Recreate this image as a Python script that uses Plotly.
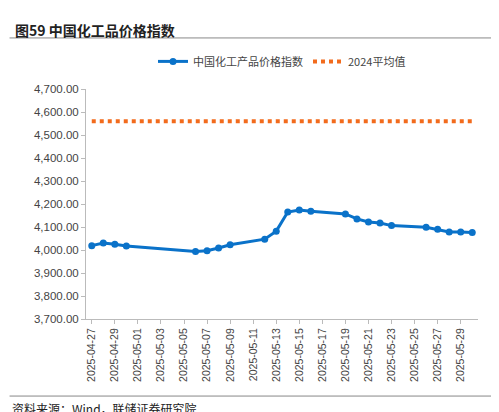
import plotly.graph_objects as go

dates = ["2025-04-27","2025-04-28","2025-04-29","2025-04-30","2025-05-06","2025-05-07","2025-05-08","2025-05-09",
         "2025-05-12","2025-05-13","2025-05-14","2025-05-15","2025-05-16","2025-05-19","2025-05-20","2025-05-21",
         "2025-05-22","2025-05-23","2025-05-26","2025-05-27","2025-05-28","2025-05-29","2025-05-30"]
index_vals = [4019,4030,4025,4017,3994,3997,4009,4023,4047,4082,4165,4174,4168,4157,4135,4122,4117,4106,4099,4090,4078,4078,4076]
avg_2024 = [4560]*len(dates)
tickvals = ["2025-04-27","2025-04-29","2025-05-01","2025-05-03","2025-05-05","2025-05-07","2025-05-09","2025-05-11",
            "2025-05-13","2025-05-15","2025-05-17","2025-05-19","2025-05-21","2025-05-23","2025-05-25","2025-05-27","2025-05-29"]

font = "Liberation Sans"
cjk = "Noto Sans CJK SC"
fig = go.Figure()
fig.add_trace(go.Scatter(x=dates, y=index_vals, mode="lines+markers", name="中国化工产品价格指数",
                         line=dict(color="#0a72c9", width=3), marker=dict(size=7, color="#0a72c9")))
fig.add_trace(go.Scatter(x=dates, y=avg_2024, mode="lines", name="2024平均值",
                         line=dict(color="#f26b1d", width=4, dash="dot")))
fig.update_layout(
    width=499, height=412, paper_bgcolor="white", plot_bgcolor="white",
    margin=dict(l=78, r=29, t=81, b=101),
    font=dict(family=font, size=11, color="#333"),
    legend=dict(orientation="h", x=0.5, xanchor="center", y=1.12, yanchor="middle",
                font=dict(size=11, family=cjk, color="#444")),
    xaxis=dict(type="date", range=["2025-04-26T12:00", "2025-05-30T12:00"], tickvals=tickvals, ticktext=tickvals,
               tickangle=-90, showgrid=False, showline=True, linecolor="#bbb", ticks="outside", ticklen=4,
               tickcolor="#bbb", tickfont=dict(size=10.5, color="#444")),
    yaxis=dict(range=[3700, 4700], dtick=100, tickformat=",.2f", showgrid=False, showline=True, linecolor="#bbb",
               ticks="outside", ticklen=4, tickcolor="#bbb", tickfont=dict(size=11.5, color="#444")),
    showlegend=True,
)
fig.add_annotation(text="<b>图59 中国化工品价格指数</b>", xref="paper", yref="paper", x=-0.185, y=1.31,
                   xanchor="left", yanchor="top", showarrow=False, font=dict(size=14, color="#222", family=cjk))
fig.add_shape(type="line", xref="paper", yref="paper", x0=-0.195, x1=1.07, y0=1.222, y1=1.222,
              line=dict(color="#888", width=1))
fig.add_shape(type="line", xref="paper", yref="paper", x0=-0.195, x1=1.07, y0=-0.335, y1=-0.335,
              line=dict(color="#888", width=1))
fig.add_annotation(text="资料来源：Wind，联储证券研究院", xref="paper", yref="paper", x=-0.195, y=-0.345,
                   xanchor="left", yanchor="top", showarrow=False, font=dict(size=12, color="#222", family=cjk))
fig.write_html("out.html")
